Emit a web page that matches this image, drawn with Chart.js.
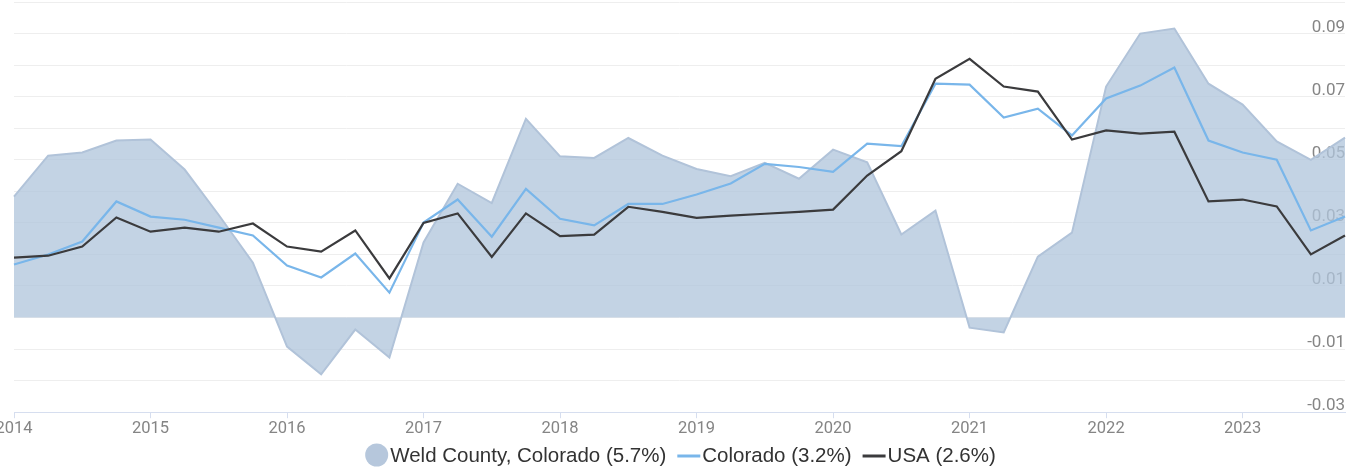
<!DOCTYPE html>
<html>
<head>
<meta charset="utf-8">
<script src="https://cdn.jsdelivr.net/npm/chart.js@4/dist/chart.umd.min.js"></script>
<style>
  html, body { margin: 0; padding: 0; background: #fff; }
  #wrap { position: relative; width: 1361px; height: 471px; }
</style>
</head>
<body>
<div id="wrap"><canvas id="c" width="1361" height="471"></canvas></div>
<script>
const years = [2014, 2015, 2016, 2017, 2018, 2019, 2020, 2021, 2022, 2023];
const quarterNames = ['Q1', 'Q2', 'Q3', 'Q4'];
const categories = [];
years.forEach(y => quarterNames.forEach(q => categories.push(y + ' ' + q)));

const weldValues = [0.0383, 0.0513, 0.0523, 0.0561, 0.0564, 0.0469, 0.0325, 0.0174, -0.0092, -0.018,
  -0.0038, -0.0127, 0.0238, 0.0424, 0.0363, 0.063, 0.0511, 0.0506, 0.0569, 0.0513,
  0.0471, 0.0448, 0.049, 0.044, 0.0532, 0.0492, 0.0263, 0.0339, -0.0032, -0.0047,
  0.0193, 0.0269, 0.0732, 0.090, 0.0916, 0.0741, 0.0675, 0.0558, 0.050, 0.057];
const coloradoValues = [0.0168, 0.020, 0.0241, 0.0368, 0.032, 0.031, 0.0285, 0.026, 0.0165, 0.0127,
  0.0203, 0.0079, 0.0301, 0.0374, 0.0256, 0.0408, 0.0313, 0.0292, 0.036, 0.036,
  0.039, 0.0425, 0.0487, 0.0477, 0.0462, 0.0551, 0.0543, 0.0741, 0.0738, 0.0634,
  0.0662, 0.0577, 0.0694, 0.0735, 0.0792, 0.0561, 0.0523, 0.050, 0.0276, 0.032];
const usaValues = [0.019, 0.0196, 0.0225, 0.0317, 0.0272, 0.0285, 0.0272, 0.0298, 0.0225, 0.0209,
  0.0276, 0.0124, 0.030, 0.033, 0.0192, 0.033, 0.0258, 0.0263, 0.0351, 0.0335,
  0.0316, 0.0323, 0.0329, 0.0335, 0.0342, 0.045, 0.0527, 0.0757, 0.082, 0.0732,
  0.0716, 0.0564, 0.0593, 0.0583, 0.0589, 0.0368, 0.0374, 0.0352, 0.020, 0.026];

const seriesNames = ['Weld County, Colorado', 'Colorado', 'USA'];
const yTickLabels = ['-0.03', '-0.01', '0.01', '0.03', '0.05', '0.07', '0.09'];

function labelWithLast(name, arr) {
  return name + ' (' + (arr[arr.length - 1] * 100).toFixed(1) + '%)';
}

const bottomLegend = {
  id: 'bottomLegend',
  afterDraw(chart) {
    const ctx = chart.ctx;
    const font = '20.5px "Liberation Sans", Arial, sans-serif';
    ctx.save();
    ctx.font = font;
    const items = chart.data.datasets.map(ds => ({
      text: ds.label,
      kind: ds.fill ? 'circle' : 'line',
      color: ds.fill ? ds.legendColor : ds.borderColor,
      w: ctx.measureText(ds.label).width
    }));
    const iconW = 23, gap = 2, spacing = 11;
    let total = 0;
    items.forEach((it, i) => { total += iconW + gap + it.w + (i ? spacing : 0); });
    let x = (chart.width - total) / 2;
    const cy = chart.height - 16;
    items.forEach((it, i) => {
      if (i) x += spacing;
      if (it.kind === 'circle') {
        ctx.beginPath();
        ctx.fillStyle = it.color;
        ctx.arc(x + iconW / 2, cy, iconW / 2, 0, Math.PI * 2);
        ctx.fill();
      } else {
        ctx.beginPath();
        ctx.strokeStyle = it.color;
        ctx.lineWidth = 3;
        ctx.moveTo(x, cy + 1);
        ctx.lineTo(x + iconW, cy + 1);
        ctx.stroke();
      }
      x += iconW + gap;
      ctx.fillStyle = '#333';
      ctx.textBaseline = 'middle';
      ctx.textAlign = 'left';
      ctx.fillText(it.text, x, cy + 1);
      x += it.w;
    });
    ctx.restore();
  }
};

new Chart(document.getElementById('c'), {
  type: 'line',
  data: {
    labels: categories,
    datasets: [
      {
        label: labelWithLast(seriesNames[0], weldValues),
        data: weldValues,
        fill: 'origin',
        backgroundColor: 'rgba(176,197,220,0.76)',
        borderColor: '#b1c3d9',
        legendColor: '#b6c7dc',
        borderWidth: 2,
        pointRadius: 0,
        tension: 0,
        order: 2
      },
      {
        label: labelWithLast(seriesNames[1], coloradoValues),
        data: coloradoValues,
        fill: false,
        borderColor: '#79b6ea',
        borderWidth: 2.2,
        pointRadius: 0,
        tension: 0,
        order: 1
      },
      {
        label: labelWithLast(seriesNames[2], usaValues),
        data: usaValues,
        fill: false,
        borderColor: '#3b3b3d',
        borderWidth: 2.2,
        pointRadius: 0,
        tension: 0,
        order: 0
      }
    ]
  },
  options: {
    responsive: false,
    animation: false,
    layout: { padding: { left: 14, right: 16, top: 2, bottom: 31 } },
    plugins: {
      legend: { display: false },
      tooltip: { enabled: false }
    },
    scales: {
      x: {
        type: 'category',
        offset: false,
        grid: {
          drawOnChartArea: false,
          drawTicks: true,
          tickLength: 6,
          tickColor: (c) => (c.index % 4 === 0 ? '#d6deef' : 'rgba(0,0,0,0)')
        },
        border: { display: true, color: '#d6deef', width: 1 },
        ticks: {
          autoSkip: false,
          maxRotation: 0,
          padding: 1,
          color: '#858585',
          font: { family: 'Roboto', size: 16.5 },
          callback: function (v) {
            const l = this.getLabelForValue(v);
            return l.endsWith('Q1') ? l.slice(0, 4) : '';
          }
        },
        afterFit: (s) => { s.paddingLeft = 0; s.paddingRight = 0; }
      },
      y: {
        position: 'right',
        min: -0.03,
        max: 0.10,
        grid: { color: '#eeeeee', drawTicks: false, lineWidth: 1 },
        border: { display: false },
        ticks: {
          stepSize: 0.01,
          mirror: true,
          padding: 0,
          labelOffset: -6,
          color: '#858585',
          font: { family: 'Roboto', size: 17 },
          callback: (v) => {
            const f = yTickLabels.find(t => Math.abs(parseFloat(t) - v) < 1e-6);
            return f || '';
          }
        },
        afterFit: (s) => { s.paddingTop = 0; s.paddingBottom = 0; }
      }
    }
  },
  plugins: [bottomLegend]
});
</script>
</body>
</html>
